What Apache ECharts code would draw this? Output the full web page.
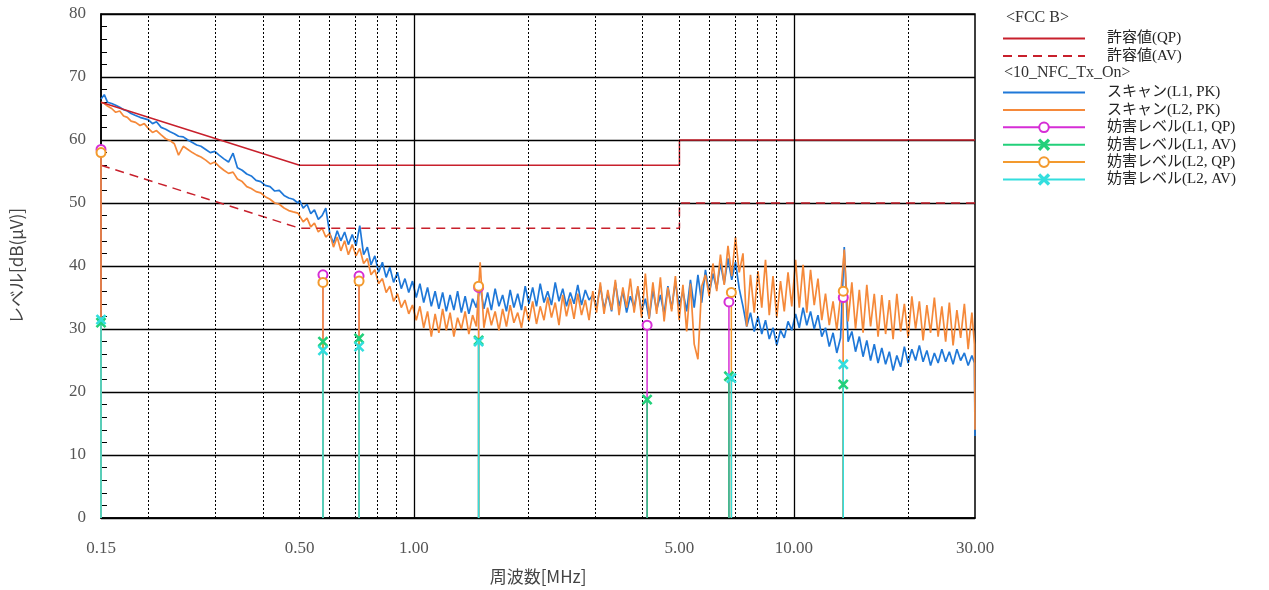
<!DOCTYPE html>
<html><head><meta charset="utf-8">
<script src="https://cdn.jsdelivr.net/npm/echarts@6/dist/echarts.min.js"></script>
<style>html,body{margin:0;padding:0;background:#fff}#c{width:1269px;height:590px}</style>
</head><body><div id="c"></div>
<script>
// ---- data ----
const freqMHz = [
0.150,0.153,0.156,0.160,0.164,0.168,0.172,0.176,0.180,0.185,
0.190,0.195,0.200,0.205,0.210,0.216,0.222,0.228,0.234,0.240,
0.247,0.254,0.261,0.268,0.275,0.283,0.291,0.299,0.307,0.316,
0.325,0.334,0.343,0.353,0.363,0.373,0.384,0.395,0.406,0.418,
0.430,0.442,0.455,0.468,0.481,0.495,
0.500,0.511,0.523,0.535,0.547,0.560,0.573,0.586,0.600,0.614,
0.628,0.642,0.657,0.672,0.688,0.704,0.720,0.737,0.754,0.771,
0.789,0.807,0.826,0.845,0.864,0.884,0.905,0.926,0.947,0.969,
0.991,1.014,1.037,1.061,1.086,1.111,1.137,1.163,1.190,1.217,
1.245,1.274,1.303,1.333,1.364,1.395,1.427,1.460,1.494,1.528,
1.563,1.599,1.636,1.674,1.712,1.752,1.792,1.833,1.876,1.919,
1.963,2.008,2.054,2.102,2.150,2.200,2.250,2.302,2.355,2.409,
2.465,2.521,2.580,2.639,2.700,2.762,2.826,2.891,2.957,3.025,
3.095,3.166,3.239,3.314,3.390,3.468,3.548,3.630,3.713,3.799,
3.886,3.976,4.067,4.161,4.257,4.355,4.455,4.557,4.662,4.770,
4.879,4.992,5.107,5.224,5.345,5.468,5.593,5.722,5.854,5.989,
6.127,6.268,6.412,6.560,6.711,6.865,7.023,7.185,7.350,7.519,
7.692,7.869,8.050,8.236,8.425,8.619,8.818,9.020,9.228,9.440,
9.658,9.880,10.11,10.34,10.58,10.82,11.07,11.32,11.58,11.85,
12.12,12.40,12.69,12.98,13.28,13.58,13.90,14.22,14.54,14.88,
15.22,15.57,15.93,16.29,16.67,17.05,17.45,17.85,18.26,18.68,
19.11,19.55,20.00,20.46,20.93,21.41,21.90,22.41,22.92,23.45,
23.99,24.54,25.11,25.68,26.27,26.88,27.50,28.13,28.78,29.44,
29.90,30.00
];
const scanL1PK = [
66.5,67.2,66.0,65.8,65.5,65.2,64.8,64.6,64.2,63.9,
63.6,63.4,63.2,62.6,62.9,62.0,61.7,61.3,61.0,60.6,
60.5,60.0,59.6,59.2,59.0,58.5,58.0,58.2,57.6,57.0,
56.5,57.9,55.6,55.2,54.6,54.3,53.6,53.4,52.8,52.6,
51.9,52.0,51.2,50.8,50.6,50.0,
50.4,49.2,49.8,48.3,48.9,47.4,48.0,49.2,
45.2,43.6,45.6,44.0,45.4,43.4,45.0,43.2,46.4,
41.8,43.0,40.2,41.6,39.0,40.6,38.2,39.8,37.4,39.0,36.4,38.0,35.8,37.6,
35.0,37.2,34.2,36.6,33.6,36.0,33.2,35.8,32.8,35.4,33.0,36.0,32.6,35.2,32.4,34.8,33.4,
36.8,
33.2,35.8,33.0,36.4,33.6,35.4,32.8,36.2,33.4,35.6,33.0,36.8,
34.0,36.6,33.6,37.2,34.2,36.0,33.8,37.4,34.4,36.4,33.6,35.8,34.0,37.0,33.8,36.2,34.6,35.4,33.4,
36.8,33.2,35.6,32.8,37.4,33.6,36.0,32.6,35.2,33.4,36.6,32.8,34.8,31.6,36.2,33.0,35.4,32.4,36.8,33.2,37.6,33.6,
36.0,32.8,37.8,33.4,38.6,34.2,39.4,35.6,38.8,
36.4,40.4,37.2,41.2,37.8,40.6,36.4,33.6,
30.4,32.6,29.6,32.0,29.2,31.4,28.4,30.2,27.4,29.8,28.6,31.2,29.8,
32.4,30.2,33.4,30.6,32.8,30.0,32.2,
28.8,30.2,27.2,29.4,26.2,28.6,
43.0,
28.0,29.6,26.4,28.8,25.6,28.2,25.0,27.6,24.6,
27.0,24.4,26.4,23.4,25.8,24.0,27.2,24.6,26.8,25.0,27.4,24.8,26.6,24.2,26.2,24.6,
26.8,24.8,26.4,24.4,26.8,25.0,26.2,24.2,25.8,24.6,13.0
];
const scanL2PK = [
66.0,65.8,65.4,65.0,64.4,64.6,63.8,63.6,63.0,62.8,
62.3,62.6,61.8,61.2,61.5,60.8,60.2,59.9,59.4,57.6,
59.0,58.5,58.0,57.6,57.3,56.8,56.2,56.5,55.8,55.2,
54.7,54.9,53.8,53.4,52.6,52.3,51.8,51.6,51.0,50.6,
50.0,49.8,49.2,48.8,48.6,48.4,
48.2,47.0,47.6,46.2,46.8,45.4,46.0,44.6,
45.2,43.0,44.6,42.4,44.0,41.8,43.4,41.6,42.8,
40.4,41.2,38.6,39.4,37.2,38.0,35.8,36.8,34.4,35.6,33.4,34.6,32.4,33.8,
31.4,33.6,30.2,32.8,28.8,32.4,29.4,33.2,29.8,32.6,28.8,31.8,30.0,32.8,29.2,32.2,30.4,
40.6,
30.2,33.4,30.6,32.8,29.8,33.2,30.4,33.8,31.0,32.6,30.2,33.6,
31.2,34.4,30.8,33.6,31.4,35.0,31.8,34.2,30.6,35.4,32.0,34.8,31.6,35.6,32.2,34.6,31.4,36.0,32.6,
37.4,32.4,36.2,33.0,37.8,32.2,36.6,33.4,38.0,32.6,36.8,31.8,
38.8,31.6,37.4,32.4,38.2,31.2,36.6,32.8,38.4,31.4,37.0,29.6,37.2,27.6,25.2,36.8,
38.6,35.2,40.4,36.0,41.8,37.0,43.2,38.4,44.6,39.0,42.0,
30.4,
38.6,32.6,39.2,33.4,41.0,32.2,38.4,31.8,37.6,32.8,39.0,33.6,
41.0,33.4,40.2,32.6,39.4,33.8,38.0,
31.4,35.6,30.6,34.4,29.8,35.2,
42.6,
31.2,37.4,30.0,36.2,29.4,37.0,30.4,35.6,28.8,
35.4,29.2,34.6,28.4,35.6,29.6,34.0,28.6,35.2,30.0,34.4,28.2,33.8,29.4,35.0,28.8,
33.6,28.0,34.2,27.4,33.0,28.6,34.0,26.8,32.6,27.6,14.0
];
const limitFreq = [0.15, 0.5, 5, 5, 30];
const limitQP = [66, 56, 56, 60, 60];
const limitAV = [56, 46, 46, 50, 50];

const l1Freq = [0.15, 0.576, 0.717, 1.48, 4.11, 6.75, 13.5];
const l1QP   = [58.5, 38.6, 38.4, 36.6, 30.6, 34.3, 35.0];
const l1AV   = [31.0, 28.0, 28.5, 28.2, 18.8, 22.5, 21.2];
const l2Freq = [0.15, 0.576, 0.717, 1.48, 6.85, 13.5];
const l2QP   = [58.0, 37.4, 37.6, 36.8, 35.8, 36.0];
const l2AV   = [31.5, 26.6, 27.2, 28.0, 22.2, 24.4];

const xTickLabels = [0.15, 0.5, 1, 5, 10, 30];
const dottedGridX = [0.2,0.3,0.4,0.5,0.6,0.7,0.8,0.9,2,3,4,5,6,7,8,9,20];
const solidGridX = [1, 10];

// ---- build ----
const pairs = (xs, ys) => xs.map((x, i) => [x, ys[i]]);
function sticks(xs, ys) {
  const out = [];
  xs.forEach((x, i) => {
    out.push({ value: [x, 0], symbol: 'none' });
    out.push({ value: [x, ys[i]] });
    out.push({ value: [x, '-'], symbol: 'none' });
  });
  return out;
}
const CROSS = 'path://M1,0L5,4L9,0L10,1L6,5L10,9L9,10L5,6L1,10L0,9L4,5L0,1Z';
const serif = "'Liberation Serif','DejaVu Serif',serif";
const jp = "'Noto Sans CJK JP','Liberation Serif',sans-serif";
const legendFont = "'Liberation Serif','Noto Sans CJK JP',serif";

function stickSeries(name, xs, ys, color, symbol, size, z) {
  return {
    name, type: 'line', data: sticks(xs, ys), connectNulls: false,
    symbol, symbolSize: size, showSymbol: true, showAllSymbol: true,
    lineStyle: { color, width: 1.5 }, itemStyle: { color, borderColor: color, borderWidth: 1.3 },
    z, animation: false, silent: true
  };
}
const noSym = { opacity: 0 };
const legendText = { fontFamily: legendFont, fontSize: 15, color: '#222', padding: [0, 0, 0, 17] };

const chart = echarts.init(document.getElementById('c'), null, { renderer: 'canvas' });
chart.setOption({
  animation: false,
  backgroundColor: '#fff',
  grid: { left: 101, top: 14, width: 874, height: 505, show: true, borderColor: '#000', borderWidth: 1.5 },
  xAxis: {
    type: 'log', logBase: 10, min: 0.15, max: 30,
    axisLine: { show: true, lineStyle: { color: '#000', width: 1.5 } },
    axisTick: { show: false },
    splitLine: { show: false },
    axisLabel: { customValues: xTickLabels, formatter: v => Number(v).toFixed(2), color: '#555', fontFamily: serif, fontSize: 17, margin: 22 },
    name: '周波数[MHz]', nameLocation: 'middle', nameGap: 50,
    nameTextStyle: { fontFamily: jp, fontSize: 17, color: '#444' }
  },
  yAxis: {
    type: 'value', min: 0, max: 80, interval: 10,
    axisLine: { show: true, lineStyle: { color: '#000', width: 1.5 } },
    axisTick: { show: true, inside: true, length: 6, lineStyle: { color: '#000' } },
    minorTick: { show: true, splitNumber: 5, length: 6, lineStyle: { color: '#000' } },
    splitLine: { show: true, lineStyle: { color: '#000', width: 1.3 } },
    axisLabel: { color: '#555', fontFamily: serif, fontSize: 17, margin: 15 },
    name: 'レベル[dB(μV)]', nameLocation: 'middle', nameGap: 76, nameRotate: 90,
    nameTextStyle: { fontFamily: jp, fontSize: 17, color: '#444' }
  },
  legend: [
    {
      data: [
        { name: '許容値(QP)', itemStyle: noSym },
        { name: '許容値(AV)', itemStyle: noSym }
      ],
      orient: 'vertical', left: 997, top: 26,
      itemWidth: 82, itemHeight: 12, itemGap: 2.4, selectedMode: false, textStyle: legendText
    },
    {
      data: [
        { name: 'スキャン(L1, PK)', itemStyle: noSym },
        { name: 'スキャン(L2, PK)', itemStyle: noSym },
        '妨害レベル(L1, QP)', '妨害レベル(L1, AV)', '妨害レベル(L2, QP)', '妨害レベル(L2, AV)'
      ],
      orient: 'vertical', left: 997, top: 80,
      itemWidth: 82, itemHeight: 12, itemGap: 2.4, selectedMode: false, textStyle: legendText
    }
  ],
  graphic: [
    { type: 'text', left: 1006, top: 10, style: { text: '<FCC B>', font: "16px 'Liberation Serif'", fill: '#333' } },
    { type: 'text', left: 1004, top: 65, style: { text: '<10_NFC_Tx_On>', font: "16px 'Liberation Serif'", fill: '#333' } }
  ],
  series: [
    {
      name: 'grid', type: 'line', data: [], z: 1, silent: true,
      markLine: {
        silent: true, symbol: ['none', 'none'], label: { show: false },
        lineStyle: { color: '#000', type: [2, 2], width: 1 },
        data: dottedGridX.map(v => ({ xAxis: v }))
          .concat(solidGridX.map(v => ({ xAxis: v, lineStyle: { type: 'solid', width: 1.3, color: '#000' } })))
      }
    },
    { name: 'スキャン(L1, PK)', type: 'line', data: pairs(freqMHz, scanL1PK), symbol: 'none', showSymbol: false,
      lineStyle: { color: '#1f78d8', width: 1.7 }, itemStyle: { color: '#1f78d8' }, z: 3 },
    { name: 'スキャン(L2, PK)', type: 'line', data: pairs(freqMHz, scanL2PK), symbol: 'none', showSymbol: false,
      lineStyle: { color: '#f5893a', width: 1.7 }, itemStyle: { color: '#f5893a' }, z: 3 },
    { name: '許容値(QP)', type: 'line', data: pairs(limitFreq, limitQP), symbol: 'none',
      lineStyle: { color: '#c8202c', width: 1.5 }, itemStyle: { color: '#c8202c' }, z: 4 },
    { name: '許容値(AV)', type: 'line', data: pairs(limitFreq, limitAV), symbol: 'none',
      lineStyle: { color: '#c8202c', width: 1.5, type: [9, 6] }, itemStyle: { color: '#c8202c' }, z: 4 },
    stickSeries('妨害レベル(L1, QP)', l1Freq, l1QP, '#d62ed6', 'emptyCircle', 9, 5),
    stickSeries('妨害レベル(L1, AV)', l1Freq, l1AV, '#22d07a', CROSS, 9, 5),
    stickSeries('妨害レベル(L2, QP)', l2Freq, l2QP, '#f39a2e', 'emptyCircle', 9, 5),
    stickSeries('妨害レベル(L2, AV)', l2Freq, l2AV, '#33dede', CROSS, 9, 5)
  ]
});
</script>
</body></html>
